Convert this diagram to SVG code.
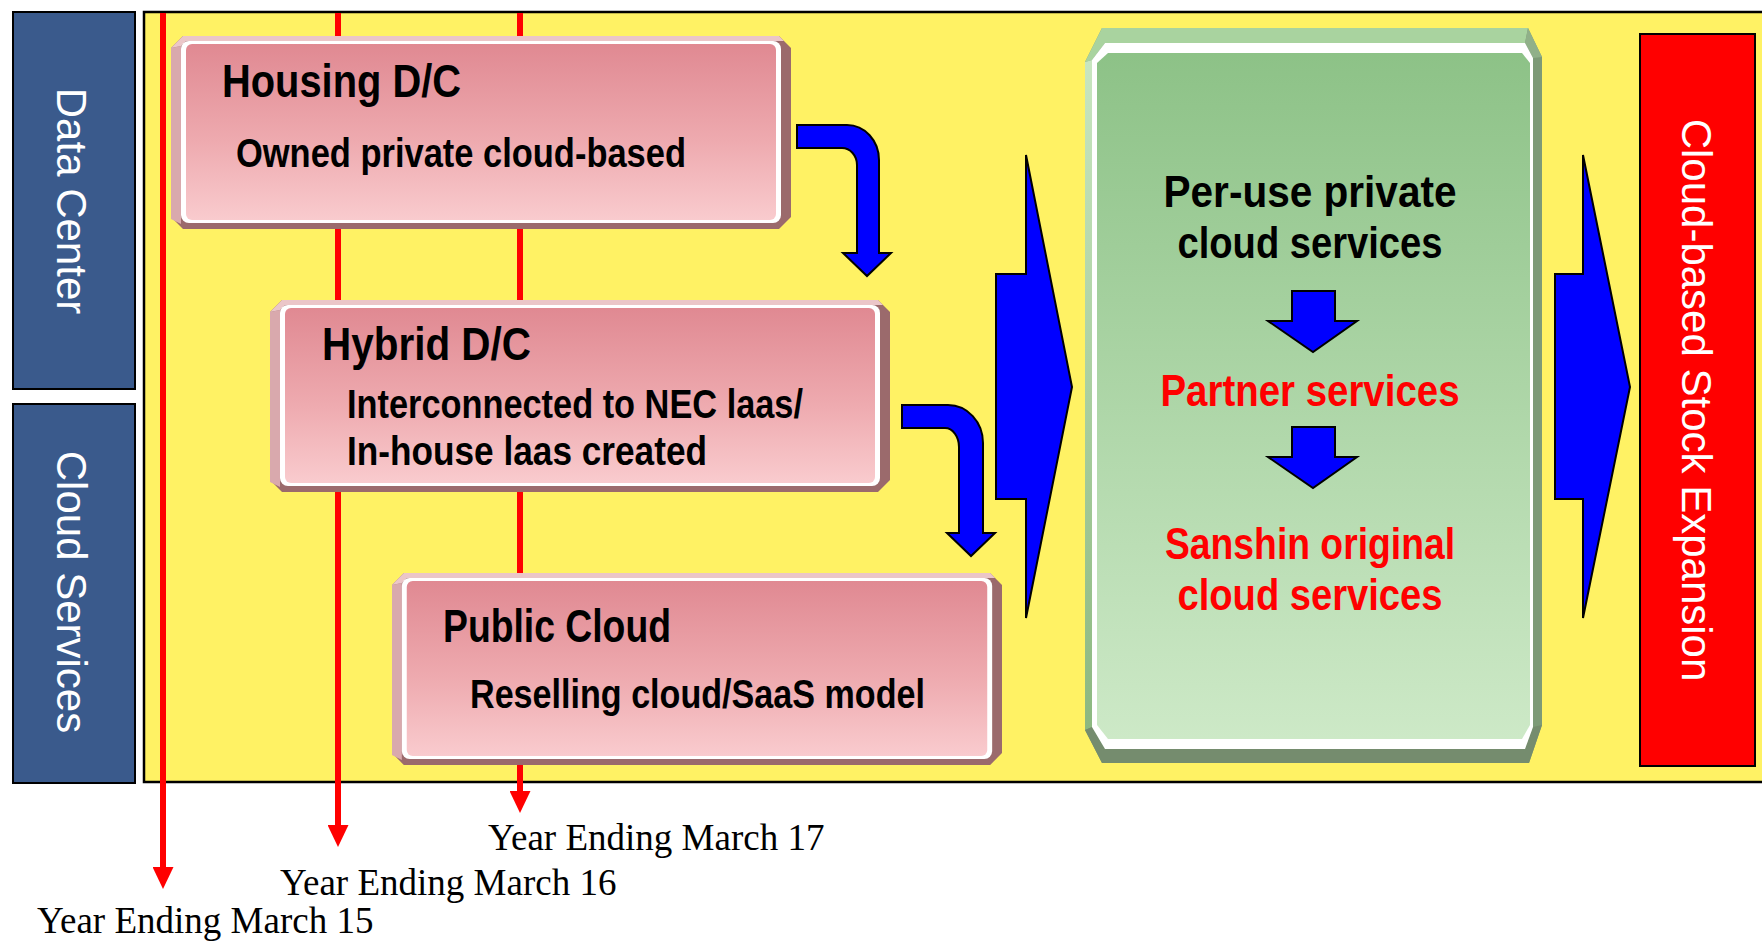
<svg xmlns="http://www.w3.org/2000/svg" width="1762" height="943" viewBox="0 0 1762 943">
  <style>
    .side { fill: #3A5A8C; stroke: #000; stroke-width: 2; }
    .sideText { font-family: "Liberation Sans", Arial, sans-serif; font-size: 42px; fill: #fff; text-anchor: middle; }
    .boxTitle { font-family: "Liberation Sans", Arial, sans-serif; font-weight: bold; font-size: 46px; fill: #000; }
    .boxBody { font-family: "Liberation Sans", Arial, sans-serif; font-weight: bold; font-size: 41px; fill: #000; }
    .greenText { font-family: "Liberation Sans", Arial, sans-serif; font-weight: bold; font-size: 45px; text-anchor: middle; }
    .yearText { font-family: "Liberation Serif", "Times New Roman", serif; font-size: 37px; fill: #000; }
    .timeline { stroke: #FF0000; stroke-width: 6; fill: none; }
    .blueArrow { fill: #0000FF; stroke: #000; stroke-width: 2; stroke-linejoin: miter; }
  </style>
  <defs>
    <linearGradient id="pinkFace" x1="0" y1="0" x2="0" y2="1">
      <stop offset="0" stop-color="#E08992"/>
      <stop offset="0.55" stop-color="#EEAAAF"/>
      <stop offset="1" stop-color="#F9CBCE"/>
    </linearGradient>
    <linearGradient id="greenFace" x1="0" y1="0" x2="0" y2="1">
      <stop offset="0" stop-color="#8DC287"/>
      <stop offset="1" stop-color="#CDE9C7"/>
    </linearGradient>
    <linearGradient id="greenLeft" x1="0" y1="0" x2="0" y2="1">
      <stop offset="0" stop-color="#C8E6C0"/>
      <stop offset="1" stop-color="#8CB880"/>
    </linearGradient>
    <marker id="redHead" markerUnits="userSpaceOnUse" markerWidth="22" markerHeight="21" viewBox="0 0 22 21" refX="0" refY="10.5" orient="auto">
      <path d="M0,0 L22,10.5 L0,21 Z" fill="#FF0000"/>
    </marker>
    <!-- bevelled pink panel -->
    <symbol id="pinkBox" viewBox="0 0 620 193" preserveAspectRatio="none">
      <polygon points="12,0 608,0 620,12 620,181 608,193 12,193 0,181 0,12" fill="#9B6A6C"/>
      <polygon points="0,12 10,10 10,188 0,183" fill="#D9A9AD"/>
      <polygon points="0,12 12,0 608,0 613,5 15,5 10,10" fill="#EBC6C8"/>
      <rect x="10" y="5" width="600" height="182" rx="8" fill="#FFFFFF"/>
      <rect x="15" y="8" width="590" height="176" rx="6" fill="url(#pinkFace)"/>
    </symbol>
  </defs>

  <rect width="1762" height="943" fill="#FFFFFF"/>

  <!-- left category labels -->
  <g id="data-center">
    <rect class="side" x="13" y="12" width="122" height="377"/>
    <text class="sideText" transform="translate(57,201) rotate(90)">Data Center</text>
  </g>
  <g id="cloud-services">
    <rect class="side" x="13" y="404" width="122" height="379"/>
    <text class="sideText" transform="translate(57,592) rotate(90)">Cloud Services</text>
  </g>

  <!-- yellow background panel -->
  <g id="panel">
    <rect x="144" y="12" width="1640" height="770" fill="#FFF264" stroke="#000" stroke-width="2.5"/>
  </g>

  <g id="connectors">
    <!-- fiscal year timelines -->
    <line class="timeline" x1="163" y1="13" x2="163" y2="867" marker-end="url(#redHead)"/>
    <line class="timeline" x1="338" y1="13" x2="338" y2="825" marker-end="url(#redHead)"/>
    <line class="timeline" x1="520" y1="13" x2="520" y2="791" marker-end="url(#redHead)"/>
    <text class="yearText" x="488" y="850">Year Ending March 17</text>
    <text class="yearText" x="280" y="895">Year Ending March 16</text>
    <text class="yearText" x="37" y="933">Year Ending March 15</text>

    <!-- step arrows between the pink panels -->
    <path class="blueArrow" d="M797,125 H847 A32,35 0 0 1 879,160 V253 H891 L867,276 L843,253 H857 V165 A15,17 0 0 0 842,148 H797 Z"/>
    <path class="blueArrow" d="M902,405 H948 A35,38 0 0 1 983,443 V533 H995 L971,556 L947,533 H959 V447 A14,19 0 0 0 945,428 H902 Z"/>

    <!-- large flow arrows -->
    <polygon class="blueArrow" points="996,274 1026,274 1026,155 1072,387 1026,618 1026,499 996,499"/>
    <polygon class="blueArrow" points="1555,274 1583,274 1583,155 1630,387 1583,618 1583,499 1555,499"/>
  </g>

  <g id="housing-dc">
    <use href="#pinkBox" x="171" y="36" width="620" height="193"/>
    <text class="boxTitle" x="222" y="97" textLength="239" lengthAdjust="spacingAndGlyphs">Housing D/C</text>
    <text class="boxBody" x="236" y="167" textLength="450" lengthAdjust="spacingAndGlyphs">Owned private cloud-based</text>
  </g>

  <g id="hybrid-dc">
    <use href="#pinkBox" x="270" y="300" width="620" height="192"/>
    <text class="boxTitle" x="322" y="360" textLength="209" lengthAdjust="spacingAndGlyphs">Hybrid D/C</text>
    <text class="boxBody" x="347" y="418" textLength="456" lengthAdjust="spacingAndGlyphs">Interconnected to NEC laas/</text>
    <text class="boxBody" x="347" y="465" textLength="360" lengthAdjust="spacingAndGlyphs">In-house laas created</text>
  </g>

  <g id="public-cloud">
    <use href="#pinkBox" x="392" y="573" width="610" height="192"/>
    <text class="boxTitle" x="443" y="642" textLength="228" lengthAdjust="spacingAndGlyphs">Public Cloud</text>
    <text class="boxBody" x="470" y="708" textLength="455" lengthAdjust="spacingAndGlyphs">Reselling cloud/SaaS model</text>
  </g>

  <g id="services">
    <!-- bevel edges -->
    <polygon points="1102,28 1528,28 1542,57 1542,725 1529,763 1102,763 1085,730 1085,62" fill="#7D9A77"/>
    <polygon points="1085,62 1102,28 1528,28 1525,43 1105,43 1092,60" fill="#A9D39F"/>
    <polygon points="1528,28 1542,57 1533,58 1525,43" fill="#90B089"/>
    <polygon points="1085,62 1092,60 1092,727 1085,730" fill="url(#greenLeft)"/>
    <polygon points="1085,730 1092,727 1105,749 1525,749 1533,727 1542,725 1529,763 1102,763" fill="#758C6E"/>
    <!-- highlight and face -->
    <polygon points="1105,43 1525,43 1533,58 1533,727 1525,749 1105,749 1092,727 1092,60" fill="#FFFFFF"/>
    <polygon points="1108,53 1522,53 1530,63 1530,725 1522,739 1108,739 1097,725 1097,63" fill="url(#greenFace)"/>
    <text class="greenText" x="1310" y="207" fill="#000" textLength="293" lengthAdjust="spacingAndGlyphs">Per-use private</text>
    <text class="greenText" x="1310" y="258" fill="#000" textLength="265" lengthAdjust="spacingAndGlyphs">cloud services</text>
    <text class="greenText" x="1310" y="406" fill="#FF0000" textLength="299" lengthAdjust="spacingAndGlyphs">Partner services</text>
    <text class="greenText" x="1310" y="559" fill="#FF0000" textLength="290" lengthAdjust="spacingAndGlyphs">Sanshin original</text>
    <text class="greenText" x="1310" y="610" fill="#FF0000" textLength="265" lengthAdjust="spacingAndGlyphs">cloud services</text>
  </g>

  <!-- arrows inside the green panel -->
  <g id="service-connectors">
    <path class="blueArrow" d="M1292,291 H1335 V321 H1357 L1313,352 L1268,321 H1292 Z"/>
    <path class="blueArrow" d="M1292,427 H1335 V457 H1357 L1313,488 L1268,457 H1292 Z"/>
  </g>

  <g id="stock-expansion">
    <rect x="1640" y="34" width="115" height="732" fill="#FF0000" stroke="#000" stroke-width="2"/>
    <text class="sideText" transform="translate(1682,400) rotate(90)">Cloud-based Stock Expansion</text>
  </g>
</svg>
